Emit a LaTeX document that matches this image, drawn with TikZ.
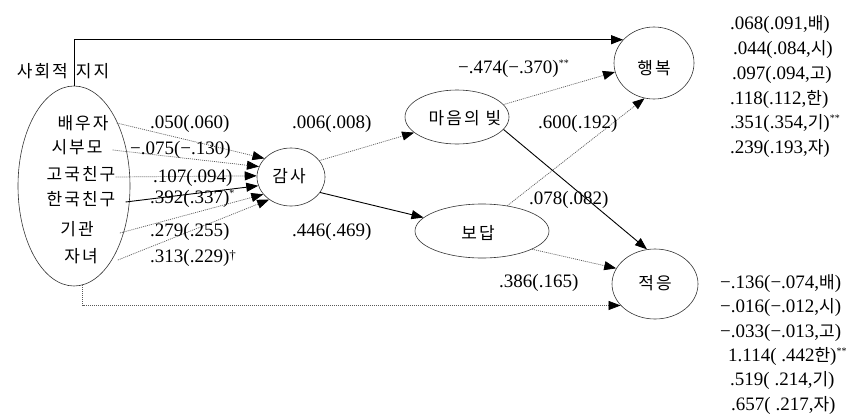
\documentclass[tikz,border=0pt]{standalone}
\usepackage{fontspec}
\setmainfont{Liberation Serif}
\newfontfamily\kr[LetterSpace=12]{Noto Sans CJK KR}
\usetikzlibrary{shapes.geometric,arrows.meta}
\newcommand{\hg}[1]{{\kr\fontsize{17}{19}\selectfont #1}}
\newcommand{\sstar}[1]{\raisebox{7pt}{\fontsize{10}{10}\selectfont #1}}
\begin{document}
\begin{tikzpicture}[x=1pt,y=-1pt,
  lat/.style={ellipse,draw=black!80,line width=0.6pt,inner sep=0pt},
  krt/.style={font=\kr\fontsize{17}{19}\selectfont,inner sep=0pt},
  num/.style={font=\fontsize{19}{21}\selectfont,inner sep=0pt,anchor=base west},
  dotarr/.style={draw=black!65,line width=0.7pt,dash pattern=on 1pt off 1pt,-{Triangle[length=12pt,width=9pt,color=black]}},
  solarr/.style={draw=black,line width=0.9pt,-{Triangle[length=12pt,width=9pt]}}]
\useasboundingbox (0,0) rectangle (859,418);
\fill[white] (0,0) rectangle (859,418);
% latent variables
\node[lat,minimum width=112pt,minimum height=200pt] (ss) at (74,186) {};
\node[lat,minimum width=68pt,minimum height=58pt] (gs) at (291,177) {};
\node[lat,minimum width=104pt,minimum height=54pt] (mb) at (457,117) {};
\node[lat,minimum width=134pt,minimum height=54pt] (bd) at (482,231) {};
\node[lat,minimum width=80pt,minimum height=72pt] (hb) at (654,63) {};
\node[lat,minimum width=86pt,minimum height=70pt] (jg) at (655,284) {};
% texts of latent variables
\node[krt] (tss) at (63,71) {사회적\hspace{8pt}지지};
\node[krt] (tgs) at (289,176) {감사};
\node[krt] (tmb) at (465,118) {마음의\hspace{6pt}빚};
\node[krt] (tbd) at (478,233) {보답};
\node[krt] (thb) at (654,68) {행복};
\node[krt] (tjg) at (655,283) {적응};
% items
\node[krt] (i1) at (83,123) {배우자};
\node[krt] (i2) at (77,147) {시부모};
\node[krt] (i3) at (81,174) {고국친구};
\node[krt] (i4) at (81,199) {한국친구};
\node[krt] (i5) at (77,229) {기관};
\node[krt] (i6) at (81,256) {자녀};
% item paths
\draw[dotarr] ([shift={(8,0)}]i1.east) -- (gs.145);
\draw[dotarr] ([shift={(10,3)}]i2.east) -- (gs.162);
\draw[dotarr] ([shift={(0,3)}]i3.east) -- (gs.178);
\draw[solarr] ([shift={(10,3)}]i4.east) -- (gs.195);
\draw[dotarr] ([shift={(26,4)}]i5.east) -- (gs.212);
\draw[dotarr] ([shift={(20,4)}]i6.east) -- (gs.226);
% structural paths
\draw[dotarr] (gs.30) -- (mb.200);
\draw[solarr] (gs.-28) -- (bd.167);
\draw[dotarr] (mb.15) -- (hb.193);
\draw[solarr] (mb.-15) -- (jg.103);
\draw[dotarr] (bd.45) -- (hb.255);
\draw[dotarr] (bd.-20) -- (jg.158);
\draw[solarr] (ss.north) |- (hb.143);
\draw[dotarr] (ss.-85) |- (jg.212);
% coefficients
\node[num] (l1) at (150,128) {.050(.060)};
\node[num] (l2) at (130,154) {−.075(−.130)};
\node[num] (l3) at (153,182) {.107(.094)};
\node[num] (l4) at (150,203) {.392(.337)\sstar{*}};
\node[num] (l5) at (150,236) {.279(.255)};
\node[num] (l6) at (150,262) {.313(.229)\raisebox{3pt}{\fontsize{13}{13}\selectfont †}};
\node[num] (l7) at (292,128) {.006(.008)};
\node[num] (l8) at (292,236) {.446(.469)};
\node[num] (l9) at (458,73) {−.474(−.370)\sstar{**}};
\node[num] (l10) at (538,128) {.600(.192)};
\node[num] (l11) at (529,204) {.078(.082)};
\node[num] (l12) at (499,287) {.386(.165)};
% happiness column
\node[num] (h1) at (730,29) {.068(.091,\hg{배})};
\node[num] (h2) at (733,54) {.044(.084,\hg{시})};
\node[num] (h3) at (732,79) {.097(.094,\hg{고})};
\node[num] (h4) at (730,104) {.118(.112,\hg{한})};
\node[num] (h5) at (730,128) {.351(.354,\hg{기})\sstar{**}};
\node[num] (h6) at (730,153) {.239(.193,\hg{자})};
% adaptation column
\node[num] (a1) at (720,288) {−.136(−.074,\hg{배})};
\node[num] (a2) at (720,312) {−.016(−.012,\hg{시})};
\node[num] (a3) at (720,337) {−.033(−.013,\hg{고})};
\node[num] (a4) at (728,361) {1.114( .442\hg{한})\sstar{**}};
\node[num] (a5) at (730,385) {.519( .214,\hg{기})};
\node[num] (a6) at (731,410) {.657( .217,\hg{자})};
\end{tikzpicture}
\end{document}
